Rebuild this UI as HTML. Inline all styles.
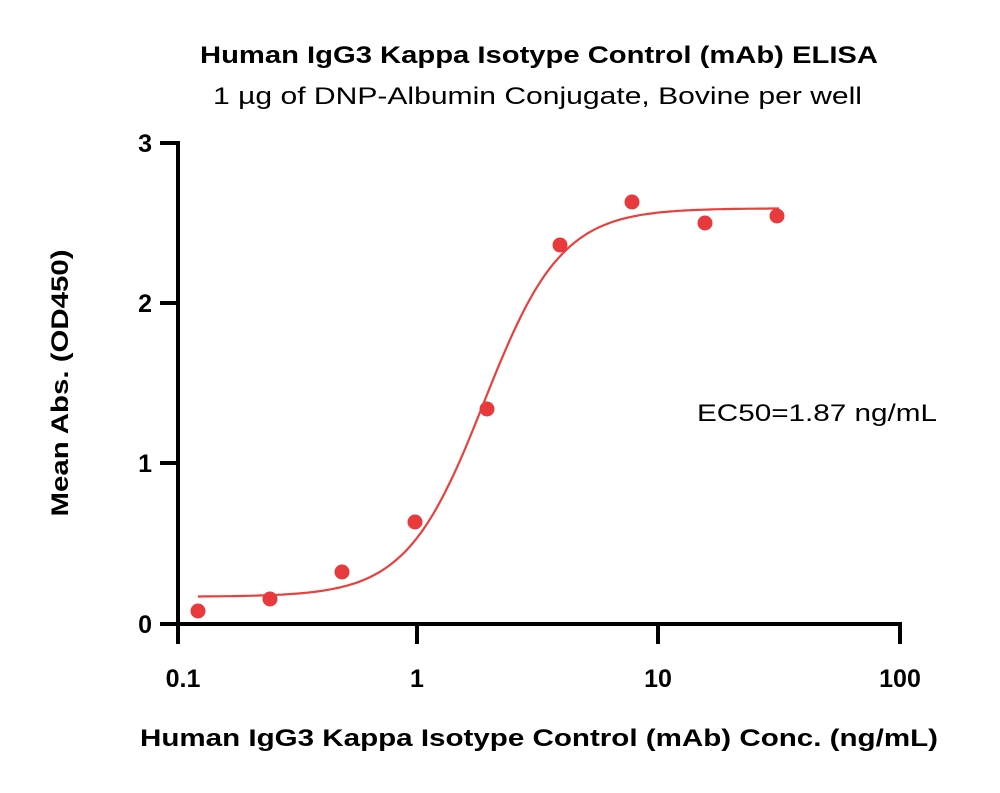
<!DOCTYPE html>
<html><head><style>
body{margin:0;background:#fff;}
svg text{font-family:"Liberation Sans",sans-serif;}
</style></head><body>
<svg id="s" width="1000" height="788" xmlns="http://www.w3.org/2000/svg">
<rect width="1000" height="788" fill="#fff"/>
<text x="200" y="63" font-size="24" font-weight="bold" fill="#000" textLength="678" lengthAdjust="spacingAndGlyphs">Human IgG3 Kappa Isotype Control (mAb) ELISA</text>
<text x="213" y="104" font-size="24" fill="#000" textLength="649" lengthAdjust="spacingAndGlyphs">1 µg of DNP-Albumin Conjugate, Bovine per well</text>
<g stroke="#000" stroke-width="4" fill="none">
<line x1="178" y1="141" x2="178" y2="644"/>
<line x1="176" y1="624" x2="902" y2="624"/>
<line x1="160" y1="143" x2="178" y2="143"/>
<line x1="160" y1="303" x2="178" y2="303"/>
<line x1="160" y1="463" x2="178" y2="463"/>
<line x1="160" y1="624" x2="178" y2="624"/>
<line x1="417" y1="624" x2="417" y2="644"/>
<line x1="658" y1="624" x2="658" y2="644"/>
<line x1="900" y1="624" x2="900" y2="644"/>
</g>
<g font-size="25" font-weight="bold" text-anchor="end" fill="#000">
<text x="152" y="152">3</text><text x="152" y="312">2</text><text x="152" y="472">1</text><text x="152" y="633">0</text>
</g>
<g font-size="25" font-weight="bold" text-anchor="middle" fill="#000">
<text x="183" y="687">0.1</text><text x="417" y="687">1</text><text x="658" y="687">10</text><text x="900" y="687">100</text>
</g>
<text x="140" y="746" font-size="24" font-weight="bold" textLength="798" lengthAdjust="spacingAndGlyphs">Human IgG3 Kappa Isotype Control (mAb) Conc. (ng/mL)</text>
<text transform="translate(68,383) rotate(-90)" text-anchor="middle" font-size="24" font-weight="bold" textLength="267" lengthAdjust="spacingAndGlyphs">Mean Abs. (OD450)</text>
<text x="697" y="421" font-size="24" textLength="240" lengthAdjust="spacingAndGlyphs">EC50=1.87 ng/mL</text>
<path id="c" fill="none" stroke="#e8403f" stroke-width="2.2"/>
<g fill="#e8393d">
<circle cx="198" cy="611" r="7.5"/><circle cx="270" cy="599" r="7.5"/><circle cx="342" cy="572" r="7.5"/>
<circle cx="415" cy="522" r="7.5"/><circle cx="487" cy="409" r="7.5"/><circle cx="560" cy="245" r="7.5"/>
<circle cx="632" cy="202" r="7.5"/><circle cx="705" cy="223" r="7.5"/><circle cx="777" cy="216" r="7.5"/>
</g>
</svg>
<script>
var d="",B=0.17,T=2.59,E=1.87,H=2.7;
for(var i=0;i<=200;i++){var lx=Math.log10(0.122)+(Math.log10(31.25)-Math.log10(0.122))*i/200;
var x=Math.pow(10,lx);var v=B+(T-B)/(1+Math.pow(E/x,H));
var px=177+(lx+1)*241.3,py=624-160.5*v;d+=(i?"L":"M")+px.toFixed(1)+","+py.toFixed(1);}
document.getElementById("c").setAttribute("d",d);
</script>
</body></html>
